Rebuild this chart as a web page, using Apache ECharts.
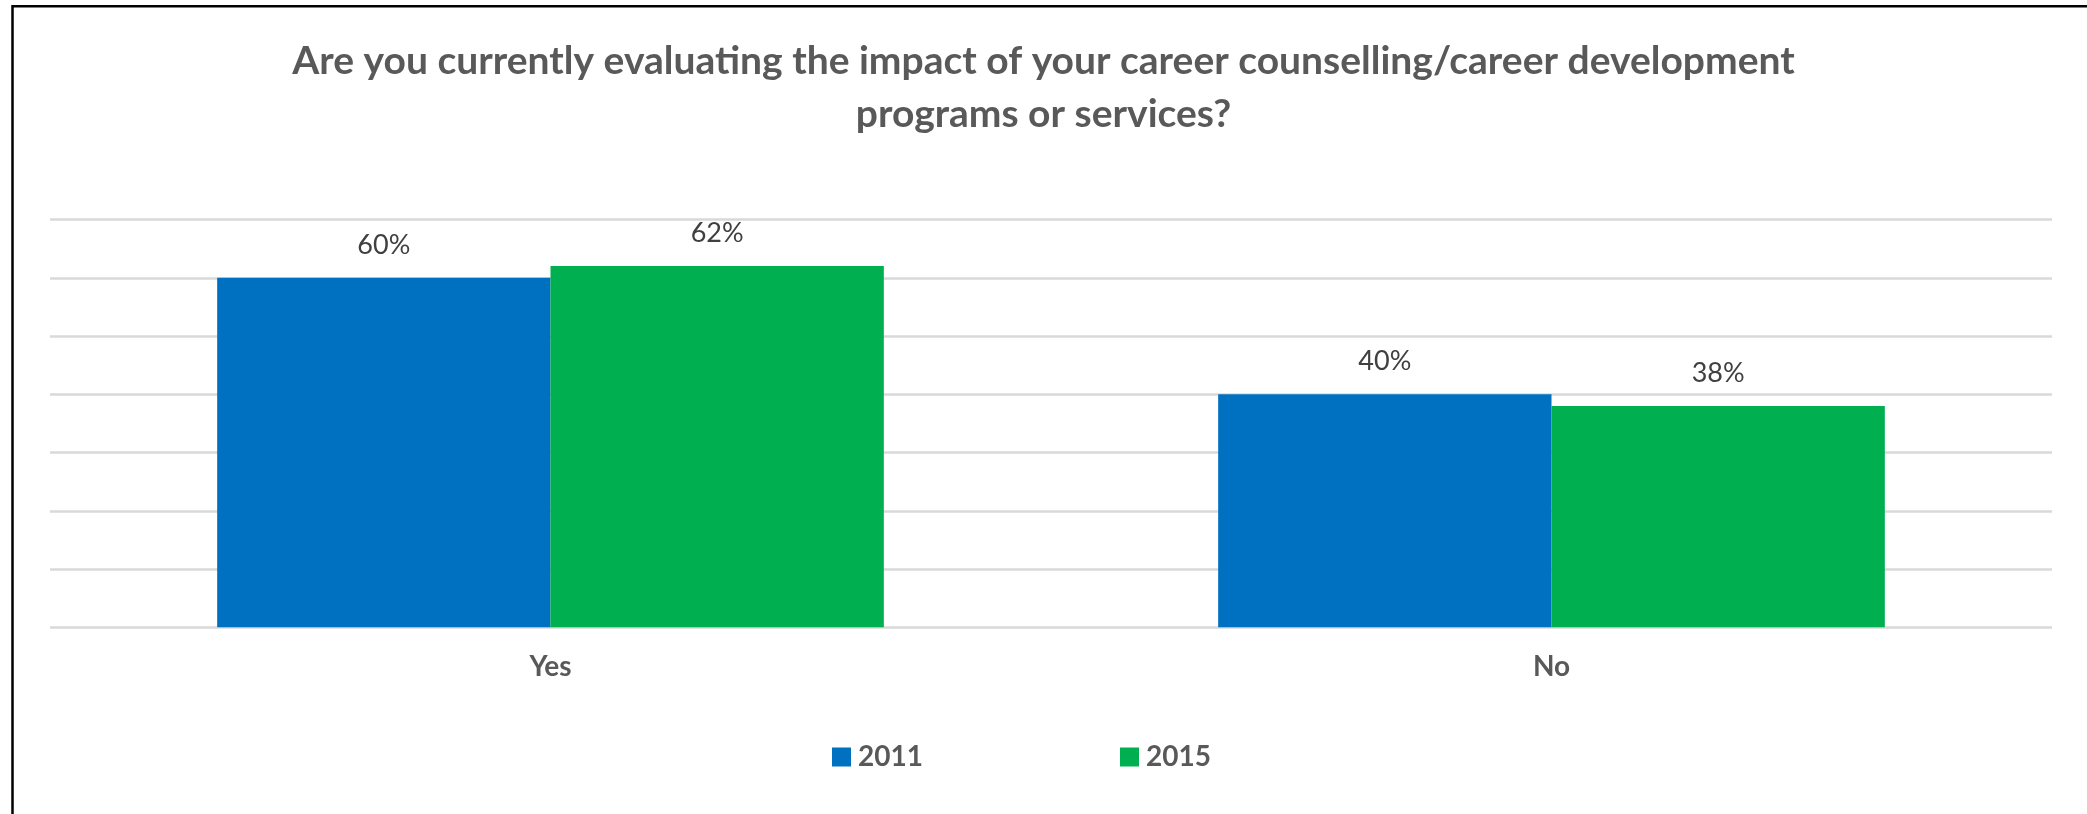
<!DOCTYPE html>
<html>
<head>
<meta charset="utf-8">
<title>Career counselling evaluation</title>
<script src="https://cdn.jsdelivr.net/npm/echarts@6/dist/echarts.min.js"></script>
<style>
  html, body { margin: 0; padding: 0; background: #ffffff; }
  #chart { width: 2087px; height: 814px; }
</style>
</head>
<body>
<div id="chart"></div>
<script>
// Survey answers by year, in percent
const categories = ['Yes', 'No'];
const years = ['2011', '2015'];
const values2011 = [60, 40];
const values2015 = [62, 38];
const titleLines = [
  'Are you currently evaluating the impact of your career counselling/career development',
  'programs or services?'
];

const FONT = 'Lato';
const TEXT_GREY = '#595959';
const GRID_GREY = '#D9D9D9';
const BLUE = '#0070C0';
const GREEN = '#00B050';

const chart = echarts.init(document.getElementById('chart'), null, { renderer: 'canvas' });

function barLabel() {
  return {
    show: true,
    position: 'top',
    distance: 19,
    formatter: p => p.value + '%',
    color: '#404040',
    fontFamily: FONT,
    fontSize: 27
  };
}

function legendAt(x, name) {
  return {
    data: [name],
    left: x,
    top: 743,
    padding: 0,
    icon: 'rect',
    itemWidth: 19,
    itemHeight: 19,
    selectedMode: false,
    textStyle: {
      color: TEXT_GREY,
      fontFamily: FONT,
      fontWeight: 'bold',
      fontSize: 28,
      padding: [0, 0, 0, 2]
    }
  };
}

chart.setOption({
  backgroundColor: '#ffffff',
  animation: false,
  title: {
    text: titleLines.join('\n'),
    left: 'center',
    top: 35,
    padding: [0, 0, 0, 10],
    textStyle: {
      color: TEXT_GREY,
      fontFamily: FONT,
      fontWeight: 'bold',
      fontSize: 39,
      lineHeight: 53
    }
  },
  legend: [legendAt(832, years[0]), legendAt(1120, years[1])],
  grid: {
    left: 50,
    right: 35,
    top: 219.5,
    bottom: 186.7,
    containLabel: false
  },
  xAxis: {
    type: 'category',
    data: categories,
    axisLine: { show: false },
    axisTick: { show: false },
    axisLabel: {
      margin: 26,
      color: TEXT_GREY,
      fontFamily: FONT,
      fontWeight: 'bold',
      fontSize: 28
    }
  },
  yAxis: {
    type: 'value',
    min: 0,
    max: 70,
    interval: 10,
    axisLabel: { show: false },
    axisLine: { show: false },
    axisTick: { show: false },
    splitLine: { lineStyle: { color: GRID_GREY, width: 2.5 } }
  },
  series: [
    {
      name: years[0],
      type: 'bar',
      data: values2011,
      barGap: '0%',
      barCategoryGap: '33.4%',
      itemStyle: { color: BLUE },
      label: barLabel()
    },
    {
      name: years[1],
      type: 'bar',
      data: values2015,
      barGap: '0%',
      barCategoryGap: '33.4%',
      itemStyle: { color: GREEN },
      label: barLabel()
    }
  ],
  graphic: [
    {
      // chart frame, open towards the right and bottom edges
      type: 'rect',
      silent: true,
      z: 100,
      shape: { x: 12.5, y: 6.2, width: 2300, height: 1000 },
      style: { fill: 'none', stroke: '#000000', lineWidth: 2.5 }
    }
  ]
});
</script>
</body>
</html>
